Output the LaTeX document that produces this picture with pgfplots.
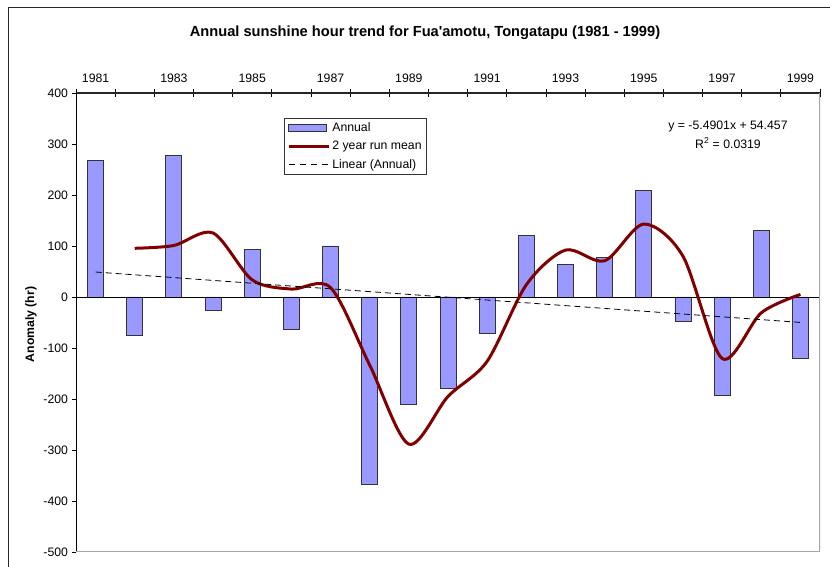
\documentclass[border=0pt]{standalone}
\usepackage{fontspec}
\setmainfont{Liberation Sans}
\usepackage{pgfplots}
\pgfplotsset{compat=1.18}
\definecolor{barblue}{HTML}{9999FF}
\definecolor{runred}{HTML}{800000}
\definecolor{edgegray}{HTML}{A6A6A6}

\begin{document}
\begin{tikzpicture}[x=1bp,y=1bp]
\path[use as bounding box] (0,0) rectangle (830,567);
\clip (0,0) rectangle (830,567);
% chart frame (cut off at right and bottom as in the reference)
\draw[line width=1.4bp, black!85] (8.5,-10) -- (8.5,559.5) -- (840,559.5);
\node[font=\bfseries\fontsize{14.7}{17}\selectfont] at (425,534)
  {Annual sunshine hour trend for Fua\textquotesingle amotu, Tongatapu (1981 - 1999)};
\begin{axis}[
  at={(76bp,15bp)}, anchor=south west,
  scale only axis, width=744bp, height=459bp,
  xmin=0.5, xmax=19.5, ymin=-500, ymax=400,
  axis x line*=top, axis y line*=left,
  x axis line style={line width=1.3bp, black!85, -},
  y axis line style={line width=0.9bp, black, -},
  xtick={1,3,...,19},
  xticklabels={1981,1983,1985,1987,1989,1991,1993,1995,1997,1999},
  minor xtick={0.5,1.5,...,19.5},
  ytick={-500,-400,...,400},
  tick align=center, major tick length=4bp, minor tick length=8bp,
  major x tick style={draw=none},
  minor x tick style={black, line width=0.8bp},
  major y tick style={black, line width=0.8bp, xshift=-2bp},
  /pgf/number format/assume math mode=true,
  tick label style={font=\fontsize{12.3}{14}\selectfont},
  xticklabel style={yshift=4.5bp},
  yticklabel style={xshift=-2.5bp},
  ylabel={Anomaly (hr)},
  ylabel style={font=\bfseries\fontsize{12.3}{14}\selectfont, xshift=-2bp},
  legend cell align=left,
  legend style={at={(rel axis cs:0.2796,0.9455)}, anchor=north west,
    draw=black!80, line width=0.7bp, inner xsep=3bp, inner ysep=2.5bp, row sep=4bp,
    font=\fontsize{12.3}{14}\selectfont,
    /tikz/every even column/.append style={column sep=2bp}},
]
\addplot[ybar, bar width=16bp, fill=barblue, draw=black!80, line width=0.9bp,
  legend image code/.code={\draw[fill=barblue, draw=black!80, line width=0.9bp] (0bp,-3.5bp) rectangle (38bp,3.5bp);}]
  coordinates {
  (1,267) (2,-76) (3,278) (4,-27) (5,94) (6,-63) (7,100) (8,-367) (9,-210) (10,-180)
  (11,-72) (12,120) (13,64) (14,78) (15,208) (16,-48) (17,-193) (18,131) (19,-121)
};
\addlegendentry{Annual}
\draw[black, line width=0.9bp] (axis cs:0.5,0) -- (axis cs:19.5,0);
\draw[edgegray, line width=1.5bp] (rel axis cs:0,0) -- (rel axis cs:1,0) -- (rel axis cs:1,1);
\addplot[runred, line width=3bp, smooth, no markers,
  legend image code/.code={\draw[runred, line width=3bp] (0bp,0bp) -- (40bp,0bp);}]
  coordinates {
  (2,95.5) (3,101) (4,125.5) (5,33.5) (6,15.5) (7,18.5) (8,-133.5) (9,-288.5) (10,-195)
  (11,-126) (12,24) (13,92) (14,71) (15,143) (16,80) (17,-120.5) (18,-31) (19,5)
};
\addlegendentry{2 year run mean}
\addplot[black, line width=0.8bp, dash pattern=on 6bp off 4bp, no markers,
  legend image code/.code={\draw[black, line width=0.8bp, dash pattern=on 6bp off 5bp] (0bp,0bp) -- (40bp,0bp);}]
  coordinates {(1,48.967) (19,-49.855)};
\addlegendentry{Linear (Annual)}
\node[font=\fontsize{12.3}{14}\selectfont] at (axis cs:17.15,335) {y = -5.4901x + 54.457};
\node[font=\fontsize{12.3}{14}\selectfont] at (axis cs:17.15,302) {R\textsuperscript{2} = 0.0319};
\end{axis}
\end{tikzpicture}
\end{document}
